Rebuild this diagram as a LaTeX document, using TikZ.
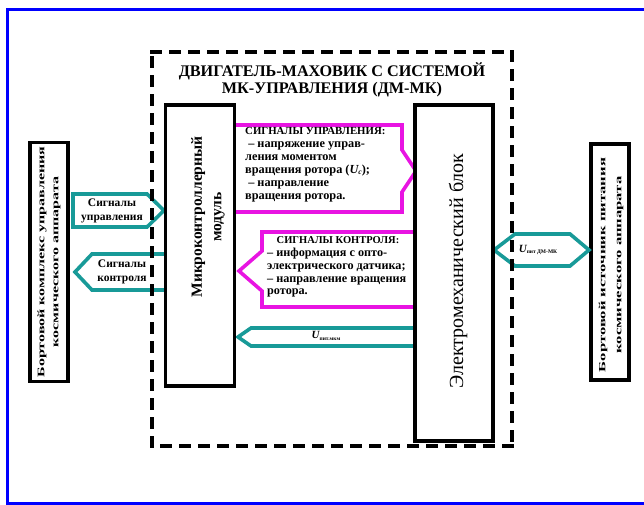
\documentclass[tikz,border=0pt]{standalone}
\usepackage{fontspec}
\setmainfont{Liberation Serif}
\newfontfamily\stretchL[FakeStretch=1.6]{Liberation Serif}
\newfontfamily\stretchR[FakeStretch=1.75]{Liberation Serif}
\usetikzlibrary{calc}
\definecolor{tealc}{RGB}{24,154,152}
\definecolor{magc}{RGB}{232,20,226}
\definecolor{framec}{RGB}{0,0,255}
\begin{document}
\begin{tikzpicture}[x=1pt,y=-1pt,line join=miter,
  box/.style={draw=black,line width=3.6pt,fill=white,inner sep=0pt},
  tealarrow/.style={draw=tealc,line width=3.6pt,fill=white},
  magarrow/.style={draw=magc,line width=3.6pt,fill=white},
  dashside/.style={draw=black,line width=3.8pt,line cap=rect,dash pattern=on 8pt off 11pt},
  lbl/.style={inner sep=0pt,align=center,font=\bfseries}]
\useasboundingbox (0,0) rectangle (644,505);
\fill[white] (0,0) rectangle (644,505);
\draw[framec,line width=3pt] (650,10) -- (7,10) -- (7,503) -- (650,503);

% outer boxes
\node[box,minimum width=38pt,minimum height=239pt] (L) at (49,262) {};
\node[box,minimum width=38pt,minimum height=236pt] (R) at (610,262) {};

% teal arrows
\draw[tealarrow] (73,194) -- (147,194) -- (164,210.5) -- (147,227) -- (73,227) -- cycle;
\draw[tealarrow] (166,254) -- (92,254) -- (75,272) -- (92,290) -- (166,290) -- cycle;
\draw[tealarrow] (494,250) -- (515,234) -- (570,234) -- (589,250) -- (570,266) -- (515,266) -- cycle;
\draw[tealarrow] (416,328) -- (251,328) -- (238,337) -- (251,346) -- (416,346);

% magenta arrows
\draw[magarrow] (234,125) -- (402,125) -- (402,150) -- (416,171) -- (402,192) -- (402,212) -- (234,212) -- cycle;
\draw[magarrow] (416,232) -- (262,232) -- (262,251) -- (239,271) -- (262,291) -- (262,307) -- (416,307) -- cycle;

% dashed frame
\draw[dashside] (152,52) -- (512,52);
\draw[dashside] (512,52) -- (512,446);
\draw[dashside] (512,446) -- (152,446);
\draw[dashside] (152,446) -- (152,52);

% inner boxes
\node[box,minimum width=69pt,minimum height=281pt] (M) at (200,245.5) {};
\node[box,minimum width=78pt,minimum height=336pt] (E) at (454,273) {};

% texts
\node[lbl,font=\bfseries\fontsize{16.2}{17}\selectfont] (title) at (332,80) {ДВИГАТЕЛЬ-МАХОВИК С СИСТЕМОЙ\\МК-УПРАВЛЕНИЯ (ДМ-МК)};
\node[lbl,rotate=90,font=\stretchL\bfseries\fontsize{10}{14}\selectfont] (Lt) at (L.center) {Бортовой комплекс управления\\космического аппарата};
\node[lbl,rotate=90,font=\stretchR\bfseries\fontsize{9.5}{16}\selectfont] (Rt) at (611,265) {Бортовой источник питания\\космического аппарата};
\node[lbl,rotate=90,font=\bfseries\fontsize{15.5}{19.5}\selectfont] (Mt) at (208,217) {Микроконтроллерный\\модуль};
\node[lbl,rotate=90,font=\fontsize{20}{20}\selectfont] (Et) at (458,271) {Электромеханический блок};
\node[lbl,font=\bfseries\fontsize{11.5}{14}\selectfont] (t1t) at (112,211) {Сигналы\\управления};
\node[lbl,font=\bfseries\fontsize{11.5}{14}\selectfont] (t2t) at (122,272) {Сигналы\\контроля};
\node[lbl,font=\bfseries\fontsize{12.3}{13}\selectfont,align=left,anchor=north west] (m1t) at (245,127) {{\fontsize{10.8}{13}\selectfont СИГНАЛЫ УПРАВЛЕНИЯ:}\\
\ – напряжение управ-\\
ления моментом\\
вращения ротора ({\itshape U}\raisebox{-1.5pt}{\fontsize{7.5}{7}\selectfont\itshape c});\\
\ – направление\\
вращения ротора.};
\node[lbl,font=\bfseries\fontsize{10.5}{12.7}\selectfont,anchor=north] (m2h) at (338,236) {СИГНАЛЫ КОНТРОЛЯ:};
\node[lbl,font=\bfseries\fontsize{12.2}{12.7}\selectfont,align=left,anchor=north west] (m2t) at (267,248) {– информация с опто-\\
электрического датчика;\\
– направление вращения\\
ротора.};
\node[lbl] (u1) at (538,250) {{\bfseries\itshape\fontsize{11}{11}\selectfont U}\raisebox{-1.5pt}{\bfseries\fontsize{5.5}{6}\selectfont пит ДМ-МК}};
\node[lbl] (u2) at (326,336) {{\bfseries\itshape\fontsize{11}{11}\selectfont U}\raisebox{-1.5pt}{\bfseries\fontsize{5.5}{6}\selectfont пит.мкм}};
\end{tikzpicture}
\end{document}
